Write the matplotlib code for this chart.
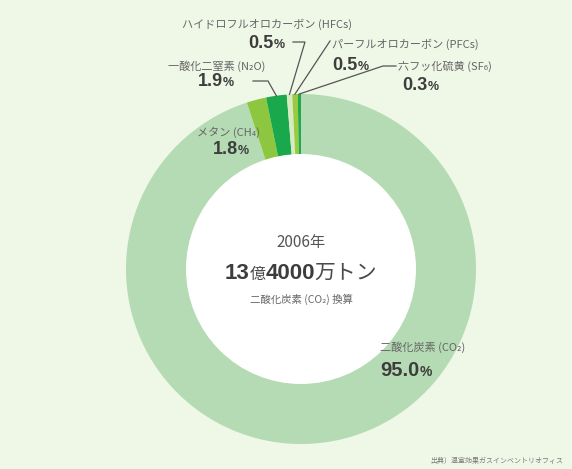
import numpy as np
import matplotlib.pyplot as plt
from matplotlib.patches import Circle
from matplotlib.offsetbox import TextArea, HPacker, AnnotationBbox

# greenhouse gas breakdown, 2006 (CO2 equivalent)
gases = ["CO2", "CH4", "N2O", "HFCs", "PFCs", "SF6"]
shares = [95.0, 1.8, 1.9, 0.5, 0.5, 0.3]
names = ["二酸化炭素 (CO₂)", "メタン (CH₄)", "一酸化二窒素 (N₂O)",
         "ハイドロフルオロカーボン (HFCs)", "パーフルオロカーボン (PFCs)",
         "六フッ化硫黄 (SF₆)"]
colors = ["#b4dbb3", "#8dc63f", "#19a84b", "#d6ebc4", "#9bc93f", "#22aa4a"]

total_year = "2006年"
total_parts = [("13", "cnum"), ("億", "jp_s"), ("4000", "cnum"), ("万トン", "jp_l")]
total_note = "二酸化炭素 (CO₂) 換算"
source = "出典）温室効果ガスインベントリオフィス"

BG = "#eff7e7"
DARK = "#3d3d3d"
GRAY = "#666666"
JP = ["Noto Sans CJK JP", "DejaVu Sans"]
NUM = "Liberation Sans"

W, H = 572, 469
CX, CY, R = 301, 269, 175

fig = plt.figure(figsize=(W / 100, H / 100), dpi=100, facecolor=BG)
ax = fig.add_axes([0, 0, 1, 1])
ax.set_facecolor(BG)

# y axis runs downward, so counterclock in data space is clockwise on screen
wedges, _ = ax.pie(shares, colors=colors, startangle=-90, counterclock=True,
                   radius=R, center=(CX, CY), frame=True,
                   wedgeprops=dict(linewidth=0))
ax.add_patch(Circle((CX, CY), 115, facecolor="white", edgecolor="none", zorder=3))

ax.set_xlim(0, W)
ax.set_ylim(H, 0)
ax.axis("off")

styles = {
    "num": dict(family=NUM, weight="bold", size=13, color=DARK),
    "pct": dict(family=NUM, weight="bold", size=9, color=DARK),
    "bignum": dict(family=NUM, weight="bold", size=14.5, color=DARK),
    "bigpct": dict(family=NUM, weight="bold", size=10, color=DARK),
    "cnum": dict(family=NUM, weight="bold", size=16, color=DARK),
    "jp_s": dict(family=JP, size=11.5, color="#4a4a4a"),
    "jp_l": dict(family=JP, size=15, color="#4a4a4a"),
}


def rim_point(w):
    a = np.deg2rad((w.theta1 + w.theta2) / 2)
    return CX + R * np.cos(a), CY + R * np.sin(a)


def packed(parts, xy, align=(0, 0.5)):
    kids = [TextArea(s, textprops=styles[k]) for s, k in parts]
    box = HPacker(children=kids, align="baseline", pad=0, sep=0)
    ab = AnnotationBbox(box, xy, xycoords="data", frameon=False,
                        box_alignment=align, pad=0, zorder=5)
    ax.add_artist(ab)


def label(text, x, y, size=8):
    ax.text(x, y, text, family=JP, fontsize=size, color=GRAY,
            ha="left", va="center", zorder=5)


def leader(points, w):
    px, py = rim_point(w)
    xs = [p[0] for p in points] + [px]
    ys = [p[1] for p in points] + [py]
    ax.plot(xs, ys, color="#555555", lw=0.9, zorder=4, solid_joinstyle="miter")


# label positions: (name x, name y, value x, value y)
spots = {
    "CO2": (380, 347, 380, 370),
    "CH4": (197, 132, 213, 150),
    "N2O": (168, 66, 198, 81),
    "HFCs": (182, 24, 248, 44),
    "PFCs": (332, 44, 332, 65),
    "SF6": (398, 66, 402, 86),
}
elbows = {
    "N2O": [(253, 81), (268, 81)],
    "HFCs": [(293, 42), (305, 42)],
    "PFCs": [(330, 41)],
    "SF6": [(396, 66), (383, 66)],
}

for g, name, val, w in zip(gases, names, shares, wedges):
    nx_, ny_, vx, vy = spots[g]
    label(name, nx_, ny_)
    if g == "CO2":
        packed([(f"{val:.1f}", "bignum"), ("%", "bigpct")], (vx, vy))
    else:
        packed([(f"{val:.1f}", "num"), ("%", "pct")], (vx, vy))
    if g in elbows:
        leader(elbows[g], w)

# center summary
ax.text(CX, 243, total_year, family=JP, fontsize=11, color="#555555",
        ha="center", va="center", zorder=5)
packed(total_parts, (CX, 273), align=(0.5, 0.5))
ax.text(CX, 299, total_note, family=JP, fontsize=7.5, color=GRAY,
        ha="center", va="center", zorder=5)

ax.text(563, 461, source, family=JP, fontsize=5, color="#7a7a7a",
        ha="right", va="center", zorder=5)

fig.savefig("out.png", dpi=100, facecolor=BG)
